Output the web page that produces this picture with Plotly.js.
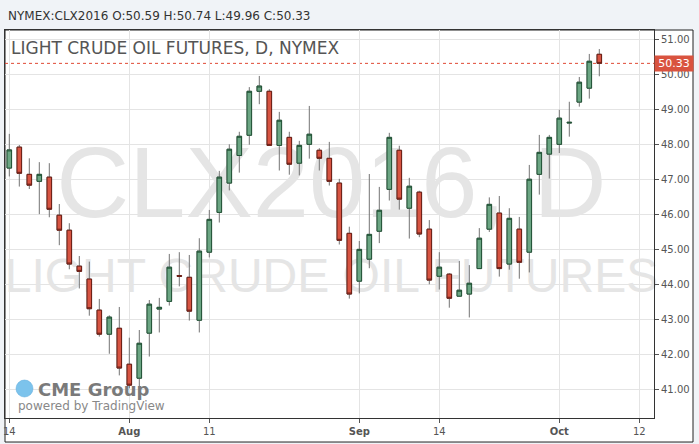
<!DOCTYPE html>
<html>
<head>
<meta charset="utf-8">
<script src="https://cdn.plot.ly/plotly-3.0.1.min.js"></script>
<style>
html,body{margin:0;padding:0;background:#f0f3f7;}
#chart{width:699px;height:444px;}
</style>
</head>
<body>
<div id="chart"></div>
<script>
// ---- data ----
const symbol = 'NYMEX:CLX2016';
const chartTitle = 'LIGHT CRUDE OIL FUTURES, D, NYMEX';
const dates = ['2016-07-15','2016-07-18','2016-07-19','2016-07-20','2016-07-21','2016-07-22','2016-07-25','2016-07-26','2016-07-27','2016-07-28','2016-07-29',
 '2016-08-01','2016-08-02','2016-08-03','2016-08-04','2016-08-05','2016-08-08','2016-08-09','2016-08-10','2016-08-11','2016-08-12','2016-08-15','2016-08-16','2016-08-17','2016-08-18','2016-08-19','2016-08-22','2016-08-23','2016-08-24','2016-08-25','2016-08-26','2016-08-29','2016-08-30','2016-08-31',
 '2016-09-01','2016-09-02','2016-09-06','2016-09-07','2016-09-08','2016-09-09','2016-09-12','2016-09-13','2016-09-14','2016-09-15','2016-09-16','2016-09-19','2016-09-20','2016-09-21','2016-09-22','2016-09-23','2016-09-26','2016-09-27','2016-09-28','2016-09-29','2016-09-30',
 '2016-10-03','2016-10-04','2016-10-05','2016-10-06','2016-10-07'];
const opens  = [47.33,47.93,47.15,46.95,47.07,45.98,45.55,44.52,44.15,43.26,42.57,42.74,41.71,41.31,42.60,43.29,43.51,44.25,44.20,42.97,
 44.92,46.06,46.90,47.69,48.27,49.53,49.53,47.98,48.21,47.47,48.01,47.84,47.61,46.90,45.46,44.09,44.72,45.52,46.72,47.84,
 46.18,46.64,45.58,44.23,44.29,43.66,43.72,44.45,45.58,46.04,44.58,45.58,44.92,47.15,47.73,48.01,48.62,49.22,49.62,50.59];
const highs  = [48.31,47.99,47.61,47.50,47.47,46.30,45.75,44.81,44.65,43.58,43.11,43.35,42.47,42.69,43.55,43.61,44.87,44.92,44.84,45.32,
 46.13,47.25,48.01,48.37,49.65,49.97,49.59,48.94,48.37,48.11,49.11,47.90,48.08,47.02,45.65,45.24,47.16,46.79,48.34,47.97,
 47.05,46.68,45.84,44.92,44.32,44.67,44.55,45.61,46.49,46.53,46.18,45.93,47.42,48.28,48.28,49.00,49.23,49.94,50.60,50.74];
const lows   = [47.09,46.80,46.73,46.01,45.92,45.12,44.43,43.88,43.10,42.50,42.01,41.39,41.02,40.68,41.93,42.62,43.39,43.94,42.96,42.62,
 44.77,45.77,46.69,47.20,48.00,49.16,47.97,47.26,47.14,47.12,47.60,47.26,46.83,45.14,43.59,43.74,44.46,45.18,46.40,46.14,
 45.31,45.35,44.00,43.85,43.33,43.66,43.05,44.45,45.50,44.22,44.42,44.16,44.34,46.57,47.03,47.76,48.23,49.09,49.32,49.96];
const closes = [47.85,47.18,46.84,47.15,46.15,45.55,44.58,44.37,43.30,42.57,43.06,41.60,41.11,42.31,43.43,43.34,44.49,44.23,43.23,44.95,
 45.86,47.07,47.87,48.24,49.53,49.68,47.98,48.70,47.44,47.98,48.30,47.61,46.95,45.26,43.72,45.00,45.43,46.12,48.21,46.44,
 46.81,45.44,44.12,44.49,43.60,43.83,44.03,45.32,46.29,44.45,45.89,44.63,47.01,47.78,48.21,48.76,48.64,49.79,50.39,50.33];
// tick labels (bar index -> label); last one lies in the empty future area
const tickBars   = [0, 12, 20, 35, 43, 55, 63];
const tickLabels = ['14', '<b>Aug</b>', '11', '<b>Sep</b>', '14', '<b>Oct</b>', '12'];
const watermark  = ['CLX2016, D', 'LIGHT CRUDE OIL FUTURES'];

// ---- derived ----
const idx = dates.map((d, i) => i);
const n = closes.length;
const bodyHigh = opens.map((o, i) => Math.max(o, closes[i]));
const bodyLow  = opens.map((o, i) => Math.min(o, closes[i]));
const last = n - 1;
const hdr = symbol + ' O:' + opens[last].toFixed(2) + ' H:' + highs[last].toFixed(2) +
            ' L:' + lows[last].toFixed(2) + ' C:' + closes[last].toFixed(2);

const wmTrace = {
  type: 'scatter', mode: 'text', xaxis: 'x', yaxis: 'y',
  x: [0.503, 0.503], y: [0.584, 0.356],
  text: watermark, textposition: 'middle center',
  textfont: {family: 'Liberation Sans, Arial, sans-serif', size: [101, 48], color: '#e5e5e5'},
  hoverinfo: 'skip', cliponaxis: false
};
const wickTrace = {
  type: 'candlestick', xaxis: 'x2', yaxis: 'y2',
  x: idx, open: opens, high: highs, low: lows, close: closes,
  increasing: {line: {color: '#737373', width: 1}, fillcolor: '#737373'},
  decreasing: {line: {color: '#737373', width: 1}, fillcolor: '#737373'},
  whiskerwidth: 0, hoverinfo: 'skip'
};
const bodyTrace = {
  type: 'candlestick', xaxis: 'x2', yaxis: 'y2',
  x: idx, open: opens, high: bodyHigh, low: bodyLow, close: closes,
  increasing: {line: {color: '#225437', width: 1}, fillcolor: '#6ba583'},
  decreasing: {line: {color: '#6b1d14', width: 1}, fillcolor: '#d75442'},
  whiskerwidth: 0, hoverinfo: 'skip'
};

const layout = {
  width: 699, height: 444, autosize: false,
  margin: {l: 5, r: 45, t: 30, b: 26, pad: 0},
  paper_bgcolor: '#f0f3f7', plot_bgcolor: '#ffffff',
  showlegend: false, hovermode: false, boxgap: 0.35,
  font: {family: 'DejaVu Sans, sans-serif', size: 10, color: '#555'},
  xaxis: {range: [0, 1], visible: false, fixedrange: true},
  yaxis: {range: [0, 1], visible: false, fixedrange: true},
  xaxis2: {
    overlaying: 'x', anchor: 'y2', range: [-0.43, 64.47],
    tickmode: 'array', tickvals: tickBars, ticktext: tickLabels,
    ticks: 'outside', ticklen: 4, tickcolor: '#555', tickwidth: 1,
    showgrid: true, gridcolor: '#e4e4e4', gridwidth: 1,
    showline: true, linecolor: '#333', linewidth: 1, mirror: true,
    zeroline: false, rangeslider: {visible: false},
    tickfont: {family: 'DejaVu Sans, sans-serif', size: 10, color: '#555'}
  },
  yaxis2: {
    overlaying: 'y', anchor: 'x2', side: 'right', range: [40.169, 51.286],
    tick0: 41, dtick: 1, tickformat: '.2f',
    ticks: 'outside', ticklen: 4, tickcolor: '#555', tickwidth: 1,
    showgrid: true, gridcolor: '#e4e4e4', gridwidth: 1,
    showline: true, linecolor: '#333', linewidth: 1, mirror: true,
    zeroline: false,
    tickfont: {family: 'DejaVu Sans, sans-serif', size: 10, color: '#555'}
  },
  shapes: [
    {type: 'rect', xref: 'paper', yref: 'paper', x0: 0, x1: 1.0601, y0: -0.0619, y1: 1,
     fillcolor: '#ffffff', line: {color: '#222', width: 1}, layer: 'below'},
    {type: 'line', xref: 'paper', yref: 'y2', x0: 0, x1: 1, y0: closes[last], y1: closes[last],
     line: {color: '#e04a35', width: 1, dash: 'dot'}, layer: 'below'},
    {type: 'circle', xref: 'paper', yref: 'paper', x0: 0.01695, x1: 0.04314, y0: 0.0541, y1: 0.0979,
     fillcolor: '#7cc3ec', line: {color: '#5aa9db', width: 0.5}, layer: 'above'}
  ],
  annotations: [
    {xref: 'paper', yref: 'paper', x: 0.0015, y: 1.036, xanchor: 'left', yanchor: 'middle',
     text: hdr, showarrow: false, font: {family: 'DejaVu Sans, sans-serif', size: 12, color: '#333'}},
    {xref: 'paper', yref: 'paper', x: 0.0066, y: 0.9528, xanchor: 'left', yanchor: 'middle',
     text: chartTitle, showarrow: false, font: {family: 'DejaVu Sans, sans-serif', size: 17, color: '#555'}},
    {xref: 'paper', yref: 'y2', x: 1, y: closes[last], xanchor: 'left', yanchor: 'middle',
     text: closes[last].toFixed(2), showarrow: false, bgcolor: '#d9533f', width: 38, height: 15, borderpad: 0,
     font: {family: 'DejaVu Sans, sans-serif', size: 11, color: '#ffffff'}},
    {xref: 'paper', yref: 'paper', x: 0.0478, y: 0.0747, xanchor: 'left', yanchor: 'middle',
     text: '<b>CME Group</b>', showarrow: false, font: {family: 'DejaVu Sans, sans-serif', size: 18, color: '#7a7a7a'}},
    {xref: 'paper', yref: 'paper', x: 0.017, y: 0.0309, xanchor: 'left', yanchor: 'middle',
     text: 'powered by TradingView', showarrow: false, font: {family: 'DejaVu Sans, sans-serif', size: 12, color: '#888'}}
  ]
};

Plotly.newPlot('chart', [wmTrace, wickTrace, bodyTrace], layout, {staticPlot: true, displayModeBar: false});
</script>
</body>
</html>
